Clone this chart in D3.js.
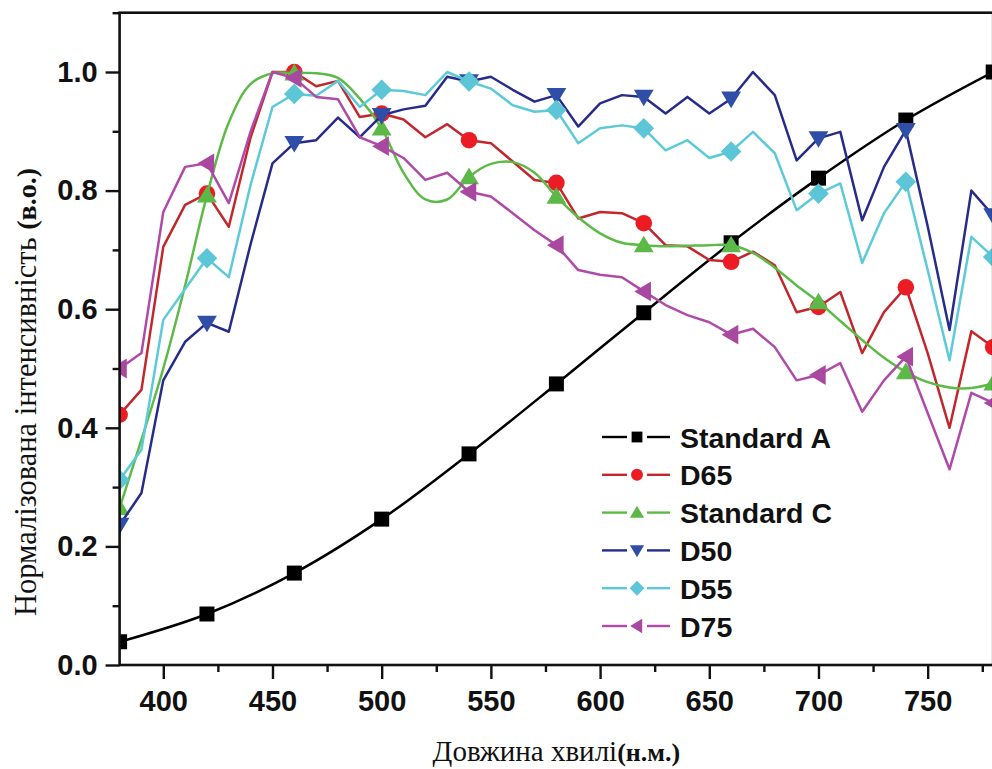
<!DOCTYPE html>
<html>
<head>
<meta charset="utf-8">
<script src="https://cdn.jsdelivr.net/npm/d3@7"></script>
<style>
  html, body { margin: 0; padding: 0; background: #fff; overflow: hidden; }
  svg { display: block; }
</style>
</head>
<body>
<svg id="chart" width="992" height="769"></svg>
<script>
// Wavelength grid (nm) for the measured spectra
const wavelengths = d3.range(380, 781, 10);
// Wavelengths where Standard A is sampled (also the marker positions)
const markerWavelengths = d3.range(380, 781, 40);

const seriesNames = ["Standard A", "D65", "Standard C", "D50", "D55", "D75"];

const standardA = [0.039, 0.086, 0.155, 0.246, 0.356, 0.474, 0.594, 0.712, 0.821, 0.919, 1.0];

const d65 = [0.422, 0.464, 0.705, 0.776, 0.795, 0.739, 0.89, 1.0, 1.0, 0.976,
             0.985, 0.924, 0.93, 0.92, 0.89, 0.912, 0.885, 0.88, 0.849, 0.818,
             0.813, 0.753, 0.764, 0.762, 0.745, 0.708, 0.706, 0.683, 0.68, 0.697,
             0.674, 0.595, 0.604, 0.629, 0.526, 0.595, 0.637, 0.526, 0.40, 0.563,
             0.536];

const standardC = [0.265, 0.38, 0.50, 0.64, 0.792, 0.915, 0.98, 0.998, 0.998, 0.998,
                   0.99, 0.955, 0.905, 0.83, 0.785, 0.785, 0.823, 0.845, 0.848, 0.83,
                   0.79, 0.755, 0.728, 0.712, 0.708, 0.706, 0.707, 0.708, 0.708, 0.695,
                   0.67, 0.64, 0.612, 0.58, 0.548, 0.518, 0.494, 0.477, 0.468, 0.467,
                   0.475];

const d50 = [0.236, 0.29, 0.48, 0.545, 0.577, 0.562, 0.71, 0.846, 0.88, 0.885,
             0.923, 0.89, 0.927, 0.937, 0.943, 0.992, 0.984, 0.992, 0.97, 0.95,
             0.961, 0.908, 0.947, 0.961, 0.958, 0.93, 0.958, 0.93, 0.955, 1.0,
             0.961, 0.851, 0.888, 0.899, 0.75, 0.84, 0.902, 0.74, 0.565, 0.80,
             0.758];

const d55 = [0.312, 0.363, 0.582, 0.634, 0.686, 0.654, 0.81, 0.941, 0.963, 0.96,
             0.985, 0.941, 0.97, 0.968, 0.961, 1.0, 0.984, 0.972, 0.944, 0.933,
             0.936, 0.88, 0.905, 0.91, 0.905, 0.868, 0.885, 0.855, 0.866, 0.899,
             0.863, 0.767, 0.795, 0.812, 0.678, 0.762, 0.815, 0.666, 0.514, 0.722,
             0.688];

const d75 = [0.50, 0.526, 0.764, 0.84, 0.846, 0.779, 0.9, 1.0, 0.99, 0.958,
             0.954, 0.89, 0.875, 0.855, 0.818, 0.83, 0.798, 0.79, 0.762, 0.733,
             0.708, 0.666, 0.658, 0.654, 0.63, 0.607, 0.59, 0.578, 0.557, 0.567,
             0.536, 0.48, 0.489, 0.509, 0.427, 0.48, 0.52, 0.425, 0.33, 0.459,
             0.442];

const xMajorTicks = [400, 450, 500, 550, 600, 650, 700, 750];
const xMinorTicks = [425, 475, 525, 575, 625, 675, 725, 775];
const yMajorTicks = [0.0, 0.2, 0.4, 0.6, 0.8, 1.0];
const yMinorTicks = [0.1, 0.3, 0.5, 0.7, 0.9, 1.1];

const xTitle = "Довжина хвилі";
const xTitleUnit = "(н.м.)";
const yTitle = "Нормалізована інтенсивність ";
const yTitleUnit = "(в.о.)";

// ---- layout ----
const svg = d3.select("#chart");
const plotLeft = 119.6, plotRight = 993.2, plotTop = 12.7, plotBottom = 665;

const x = d3.scaleLinear().domain([380, 780]).range([plotLeft, plotRight]);
const y = d3.scaleLinear().domain([0, 1.1]).range([plotBottom, plotTop]);

const tickFont = "'Liberation Sans', Arial, Helvetica, sans-serif";
const titleFont = "'Liberation Serif', 'Times New Roman', serif";

// Build series objects
function pointsOf(xs, ys) { return xs.map((w, i) => ({ w, v: ys[i] })); }
const series = [
  { name: seriesNames[0], pts: pointsOf(markerWavelengths, standardA), markerStep: 1,
    line: "#000000", fill: "#000000", symbol: "square", curve: d3.curveCatmullRom.alpha(0.5) },
  { name: seriesNames[1], pts: pointsOf(wavelengths, d65), markerStep: 4,
    line: "#c1272d", fill: "#ec1c24", symbol: "circle", curve: d3.curveLinear },
  { name: seriesNames[2], pts: pointsOf(wavelengths, standardC), markerStep: 4,
    line: "#5cbb46", fill: "#5cb947", symbol: "triUp", curve: d3.curveCatmullRom.alpha(0.5) },
  { name: seriesNames[3], pts: pointsOf(wavelengths, d50), markerStep: 4,
    line: "#272c8a", fill: "#2e4ea8", symbol: "triDown", curve: d3.curveLinear },
  { name: seriesNames[4], pts: pointsOf(wavelengths, d55), markerStep: 4,
    line: "#5ccad8", fill: "#5cc6d6", symbol: "diamond", curve: d3.curveLinear },
  { name: seriesNames[5], pts: pointsOf(wavelengths, d75), markerStep: 4,
    line: "#b04aa9", fill: "#a8489e", symbol: "triLeft", curve: d3.curveLinear }
];

// Marker path generators centred on (0,0), size s = half extent
function markerPath(kind, s) {
  switch (kind) {
    case "square": return `M${-s},${-s}H${s}V${s}H${-s}Z`;
    case "circle": return `M${s},0A${s},${s} 0 1,1 ${-s},0A${s},${s} 0 1,1 ${s},0Z`;
    case "triUp": return `M0,${-s * 1.05}L${s * 1.1},${s * 0.8}L${-s * 1.1},${s * 0.8}Z`;
    case "triDown": return `M0,${s * 1.05}L${s * 1.1},${-s * 0.8}L${-s * 1.1},${-s * 0.8}Z`;
    case "triLeft": return `M${-s * 1.05},0L${s * 0.8},${-s * 1.1}L${s * 0.8},${s * 1.1}Z`;
    case "diamond": return `M0,${-s * 1.2}L${s * 1.2},0L0,${s * 1.2}L${-s * 1.2},0Z`;
  }
}
const markerSize = { square: 7.5, circle: 8.3, triUp: 9, triDown: 9, triLeft: 9, diamond: 8.6 };

// Clip the data to the plotting frame
svg.append("clipPath").attr("id", "plot-clip")
  .append("rect").attr("x", plotLeft).attr("y", plotTop - 20)
  .attr("width", plotRight - plotLeft + 20).attr("height", plotBottom - plotTop + 20);

const plot = svg.append("g").attr("clip-path", "url(#plot-clip)");

series.forEach(s => {
  const g = plot.append("g").attr("class", "series");
  const line = d3.line().x(d => x(d.w)).y(d => y(d.v)).curve(s.curve);
  g.append("path").datum(s.pts)
    .attr("d", line)
    .attr("fill", "none")
    .attr("stroke", s.line)
    .attr("stroke-width", 2.5)
    .attr("stroke-linejoin", "round");
  const marks = s.pts.filter((d, i) => i % s.markerStep === 0);
  g.selectAll("path.mk").data(marks).join("path")
    .attr("class", "mk")
    .attr("transform", d => `translate(${x(d.w)},${y(d.v)})`)
    .attr("d", markerPath(s.symbol, markerSize[s.symbol]))
    .attr("fill", s.fill);
});

// ---- axes ----
const axisColor = "#111";
function styleAxis(g) {
  g.select(".domain").remove();
  g.selectAll(".tick line").attr("stroke", axisColor).attr("stroke-width", 2.4);
}

const xAxisMajor = svg.append("g").attr("transform", `translate(0,${plotBottom})`)
  .call(d3.axisBottom(x).tickValues(xMajorTicks).tickSize(14).tickPadding(11).tickFormat(d3.format("d")));
styleAxis(xAxisMajor);
xAxisMajor.selectAll("text")
  .attr("font-family", tickFont).attr("font-weight", "bold").attr("font-size", 29).attr("fill", "#111");

const xAxisMinor = svg.append("g").attr("transform", `translate(0,${plotBottom})`)
  .call(d3.axisBottom(x).tickValues(xMinorTicks).tickSize(7).tickFormat(""));
styleAxis(xAxisMinor);

const yAxisMajor = svg.append("g").attr("transform", `translate(${plotLeft},0)`)
  .call(d3.axisLeft(y).tickValues(yMajorTicks).tickSize(14).tickPadding(8).tickFormat(d3.format(".1f")));
styleAxis(yAxisMajor);
yAxisMajor.selectAll("text")
  .attr("font-family", tickFont).attr("font-weight", "bold").attr("font-size", 29).attr("fill", "#111");

const yAxisMinor = svg.append("g").attr("transform", `translate(${plotLeft},0)`)
  .call(d3.axisLeft(y).tickValues(yMinorTicks).tickSize(7).tickFormat(""));
styleAxis(yAxisMinor);

// Frame around the plotting area
svg.append("rect")
  .attr("x", plotLeft).attr("y", plotTop)
  .attr("width", plotRight - plotLeft).attr("height", plotBottom - plotTop)
  .attr("fill", "none").attr("stroke", axisColor).attr("stroke-width", 2.6);

// ---- legend ----
const legend = svg.append("g").attr("transform", "translate(602,437)");
series.forEach((s, i) => {
  const row = legend.append("g").attr("transform", `translate(0,${i * 37.8})`);
  row.append("line").attr("x1", 0).attr("x2", 25).attr("y1", 0).attr("y2", 0)
    .attr("stroke", s.line).attr("stroke-width", 2.4);
  row.append("line").attr("x1", 45).attr("x2", 68).attr("y1", 0).attr("y2", 0)
    .attr("stroke", s.line).attr("stroke-width", 2.4);
  row.append("path").attr("transform", "translate(35,0)")
    .attr("d", markerPath(s.symbol, markerSize[s.symbol] * 0.72))
    .attr("fill", s.fill);
  row.append("text").attr("x", 78).attr("y", 10.5)
    .attr("font-family", tickFont).attr("font-weight", "bold").attr("font-size", 28.5)
    .attr("fill", "#111").text(s.name);
});

// ---- axis titles ----
const xt = svg.append("text")
  .attr("x", (plotLeft + plotRight) / 2).attr("y", 761)
  .attr("text-anchor", "middle")
  .attr("font-family", titleFont).attr("font-size", 29).attr("fill", "#111");
xt.append("tspan").text(xTitle);
xt.append("tspan").attr("font-weight", "bold").attr("font-size", 26).text(xTitleUnit);

const yt = svg.append("text")
  .attr("transform", "translate(36,392) rotate(-90)")
  .attr("text-anchor", "middle")
  .attr("font-family", titleFont).attr("font-size", 30.5).attr("fill", "#111");
yt.append("tspan").text(yTitle);
yt.append("tspan").attr("font-weight", "bold").attr("font-size", 28).text(yTitleUnit);
</script>
</body>
</html>
